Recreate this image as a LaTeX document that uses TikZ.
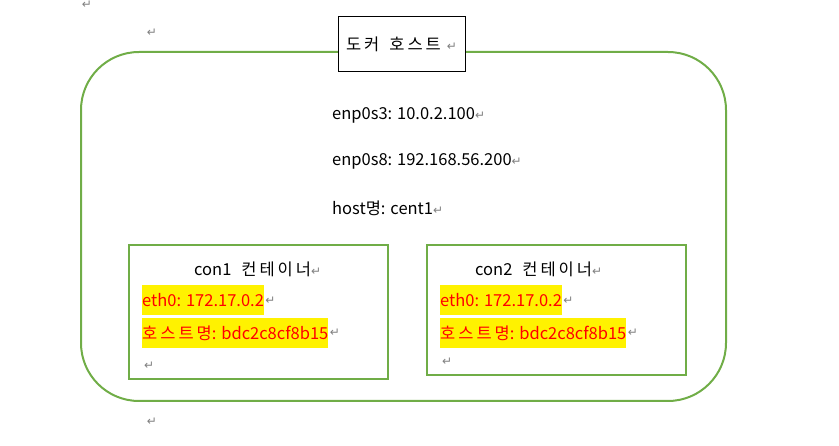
\documentclass[tikz,border=0pt]{standalone}
\usepackage{fontspec}
\setmainfont{Noto Sans CJK KR}
\newfontfamily\markfont{DejaVu Sans}
\newfontfamily\krfont[LetterSpace=18]{Noto Sans CJK KR}
\definecolor{hostgreen}{HTML}{70AD47}
\newcommand{\pmark}{{\markfont\fontsize{12}{12}\selectfont\color{gray}↵}}
\newcommand{\kr}[1]{{\krfont #1}}
\tikzset{
  hostline/.style={draw=hostgreen,line width=2pt,rounded corners=58pt},
  conbox/.style={draw=hostgreen,line width=2pt},
  titlebox/.style={draw,fill=white,line width=1pt,minimum width=127pt,minimum height=55pt},
  info/.style={anchor=west,inner sep=0pt},
  hl/.style={anchor=west,inner xsep=0pt,inner ysep=0pt,minimum height=30pt,fill=yellow,text=red},
  pm/.style={anchor=west,inner sep=1pt}
}

\begin{document}
\begin{tikzpicture}[x=1pt,y=-1pt,font=\fontsize{16.5}{18}\selectfont]
\useasboundingbox (0,0) rectangle (839,446);
\draw[hostline] (81,52) rectangle (726,401);
\node[titlebox] (host) at (401.5,44.5) {\kr{도커}\hspace{10pt}\kr{호스트}\hspace{6pt}\pmark};
\node[info] (nic1) at (332,115) {enp0s3: 10.0.2.100\pmark};
\node[info] (nic2) at (332,161) {enp0s8: 192.168.56.200\pmark};
\node[info] (hname) at (332,208) {host\kr{명}: cent1\pmark};
\foreach \n/\x/\b/\tx in {1/129/379/194,2/427/375/475}{
  \draw[conbox] (\x,245) rectangle (\x+259,\b);
  \node[info] (title\n) at (\tx,269) {con\n\hspace{10pt}\kr{컨테이너}\pmark};
  \node[hl] (eth\n) at (\x+13,300.5) {eth0: 172.17.0.2};
  \node[pm] (ethm\n) at (eth\n.east) {\pmark};
  \node[hl] (cname\n) at (\x+13,333) {\kr{호스트명}: bdc2c8cf8b15};
  \node[pm] (cnamem\n) at (cname\n.east) {\pmark};
  \node[pm] (endm\n) at (\x+14,\b-13) {\pmark};
}
\node[inner sep=0pt] (m1) at (87,5) {\pmark};
\node[inner sep=0pt] (m2) at (152,33) {\pmark};
\node[inner sep=0pt] (m3) at (152,422) {\pmark};
\end{tikzpicture}
\end{document}
